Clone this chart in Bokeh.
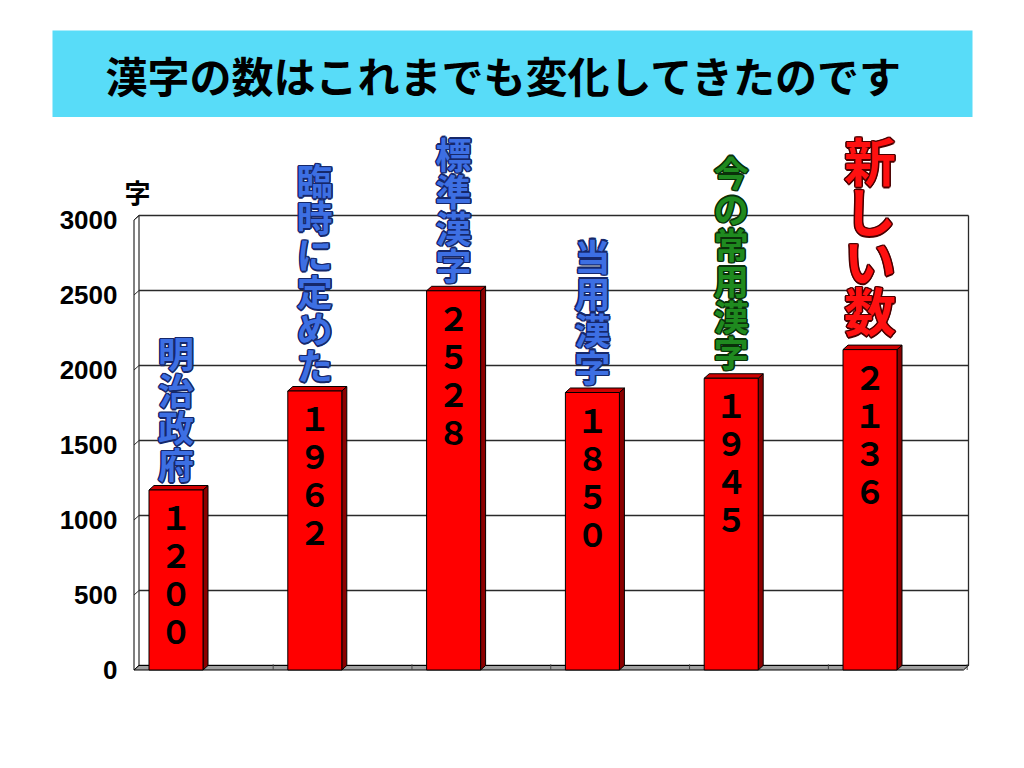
from bokeh.plotting import figure
from bokeh.layouts import column
from bokeh.models import Range1d, FixedTicker, ColumnDataSource
from bokeh.core.properties import value
from bokeh.embed import file_html
from bokeh.resources import INLINE

# ---------------- data ----------------
title_text = "漢字の数はこれまでも変化してきたのです"
categories = ["明治政府", "臨時に定めた", "標準漢字", "当用漢字", "今の常用漢字", "新しい数"]
bar_values = [1200, 1860, 2528, 1850, 1945, 2136]
value_labels = ["１２００", "１９６２", "２５２８", "１８５０", "１９４５", "２１３６"]
y_ticks = [0, 500, 1000, 1500, 2000, 2500, 3000]
unit_label = "字"

# ---------------- styles ----------------
JP = "Noto Sans CJK JP"
label_kind = ["blue", "blue", "blue", "blue", "green", "red"]
kind_style = {
    "blue": dict(size=36, pitch=37, gap=10, half=17, color="#3d6fe3", outline="#16286a"),
    "green": dict(size=35, pitch=36, gap=10, half=17, color="#1f8a1f", outline="#0a300a"),
    "red": dict(size=52, pitch=50, gap=16, half=24, color="#ff1010", outline="#4a0000"),
}

W = 1008
TITLE_H = 117
CHART_H = 635

# page-pixel <-> data helpers (layout geometry only)
X0, XS = 175.5, 138.8      # page x of first bar centre, px per category
Y0, YS = 669.5, 0.15       # page y of value 0 (front), px per unit
def dx(px):
    return (px - X0) / XS
def dy(py):
    return (Y0 - py) / YS

DEPTH_Y = 4.5 / YS         # 3D depth in value units
DEPTH_X = 5.0 / XS         # 3D depth in x units
HW = 27.0 / XS             # half bar width

# ---------------- title figure ----------------
t = figure(width=W, height=TITLE_H, x_range=Range1d(0, W), y_range=Range1d(TITLE_H, 0),
           output_backend="svg", toolbar_location=None,
           min_border_left=0, min_border_right=0, min_border_top=0, min_border_bottom=0)
t.frame_align = False
t.axis.visible = False
t.grid.visible = False
t.outline_line_color = None
t.background_fill_color = "white"
t.border_fill_color = "white"
t.quad(left=[52], right=[972], top=[30], bottom=[118], fill_color="#58dcf8", line_color=None)
t.text(x=[504], y=[74], text=[title_text], text_align="center", text_baseline="middle",
       text_font=value(JP), text_font_style="bold", text_font_size="42px", text_color="black")

# ---------------- chart figure ----------------
FL, FR, FT, FB = 124, 972, TITLE_H, 680   # frame edges in page px
p = figure(width=W, height=CHART_H,
           x_range=Range1d(dx(FL), dx(FR)), y_range=Range1d(dy(FB), dy(FT)),
           output_backend="svg", toolbar_location=None,
           min_border_left=FL, min_border_right=W - FR, min_border_top=0,
           min_border_bottom=TITLE_H + CHART_H - FB)
p.frame_align = False
p.xaxis.visible = False
p.xgrid.visible = False
p.ygrid.visible = False
p.outline_line_color = None
p.background_fill_color = "white"
p.border_fill_color = "white"

ax = p.yaxis[0]
ax.ticker = FixedTicker(ticks=y_ticks)
ax.axis_line_color = None
ax.major_tick_line_color = None
ax.minor_tick_line_color = None
ax.major_label_standoff = 1
ax.major_label_text_font = "Liberation Sans"
ax.major_label_text_font_style = "bold"
ax.major_label_text_font_size = "26px"
ax.major_label_text_color = "black"

# ---------------- walls / floor ----------------
XL, XB, XR, XRF = dx(133.5), dx(138.5), dx(968), dx(963)
top_tick = max(y_ticks)
p.patch(x=[XL, XL, XB, XB], y=[0, top_tick, top_tick + DEPTH_Y, DEPTH_Y],
        fill_color="white", line_color="black", line_width=1)
p.segment(x0=[XB] * len(y_ticks), y0=[v + DEPTH_Y for v in y_ticks],
          x1=[XR] * len(y_ticks), y1=[v + DEPTH_Y for v in y_ticks],
          line_color="#2a2a2a", line_width=1.3)
p.segment(x0=[XL] * len(y_ticks), y0=y_ticks,
          x1=[XB] * len(y_ticks), y1=[v + DEPTH_Y for v in y_ticks],
          line_color="#2a2a2a", line_width=1)
p.segment(x0=[XR], y0=[DEPTH_Y], x1=[XR], y1=[top_tick + DEPTH_Y], line_color="#2a2a2a", line_width=1.3)
p.patch(x=[XL, XB, XR, XRF], y=[0, DEPTH_Y, DEPTH_Y, 0],
        fill_color="#a0a0a0", line_color="black", line_width=1)
bx = [i + 0.7 for i in range(len(categories))]
p.segment(x0=bx, y0=[0] * len(bx), x1=bx, y1=[DEPTH_Y + 8] * len(bx), line_color="#444444", line_width=1)

# ---------------- 3D bars ----------------
idx = list(range(len(categories)))
side_xs, side_ys, top_xs, top_ys = [], [], [], []
for i, v in zip(idx, bar_values):
    side_xs.append([i + HW, i + HW + DEPTH_X, i + HW + DEPTH_X, i + HW])
    side_ys.append([0, DEPTH_Y, v + DEPTH_Y, v])
    top_xs.append([i - HW, i - HW + DEPTH_X, i + HW + DEPTH_X, i + HW])
    top_ys.append([v, v + DEPTH_Y, v + DEPTH_Y, v])
p.patches(xs=side_xs, ys=side_ys, fill_color="#8c0000", line_color="black", line_width=1)
p.patches(xs=top_xs, ys=top_ys, fill_color="#d00000", line_color="black", line_width=1)
p.quad(left=[i - HW for i in idx], right=[i + HW for i in idx], bottom=[0] * len(idx), top=bar_values,
       fill_color="#ff0000", line_color="black", line_width=1)

# ---------------- value digits inside bars ----------------
dxs, dys, dtx, doff = [], [], [], []
for i, v, s in zip(idx, bar_values, value_labels):
    for k, ch in enumerate(s):
        dxs.append(i); dys.append(v); dtx.append(ch); doff.append(26 + 38 * k)
p.text(x=dxs, y=dys, text=dtx, y_offset=doff, text_align="center", text_baseline="middle",
       text_font=value(JP), text_font_style="bold", text_font_size="32px", text_color="black")

# ---------------- vertical category labels above bars ----------------
lx, ly, lt, loff, lsize, lcol, lout = [], [], [], [], [], [], []
for i, v, name, kind in zip(idx, bar_values, categories, label_kind):
    st = kind_style[kind]
    n = len(name)
    for k, ch in enumerate(name):
        lx.append(i); ly.append(v); lt.append(ch)
        loff.append(-(st["gap"] + st["half"]) - (n - 1 - k) * st["pitch"])
        lsize.append(f'{st["size"]}px'); lcol.append(st["color"]); lout.append(st["outline"])

for ox, oy in [(-1.5, 0), (1.5, 0), (0, -1.5), (0, 1.5), (-1.1, -1.1), (1.1, 1.1), (-1.1, 1.1), (1.1, -1.1)]:
    src = ColumnDataSource(dict(x=lx, y=ly, t=lt, yo=[o + oy for o in loff], sz=lsize, c=lout))
    p.text(x="x", y="y", text="t", source=src, x_offset=ox, y_offset="yo", text_align="center",
           text_baseline="middle", text_font=value(JP), text_font_style="bold",
           text_font_size="sz", text_color="c")
src = ColumnDataSource(dict(x=lx, y=ly, t=lt, yo=loff, sz=lsize, c=lcol))
p.text(x="x", y="y", text="t", source=src, y_offset="yo", text_align="center",
       text_baseline="middle", text_font=value(JP), text_font_style="bold",
       text_font_size="sz", text_color="c")

# unit label
p.text(x=[dx(137)], y=[dy(191)], text=[unit_label], text_align="center", text_baseline="middle",
       text_font=value(JP), text_font_style="bold", text_font_size="26px", text_color="black")

open("out.html", "w").write(file_html(column(t, p, spacing=0), INLINE))
